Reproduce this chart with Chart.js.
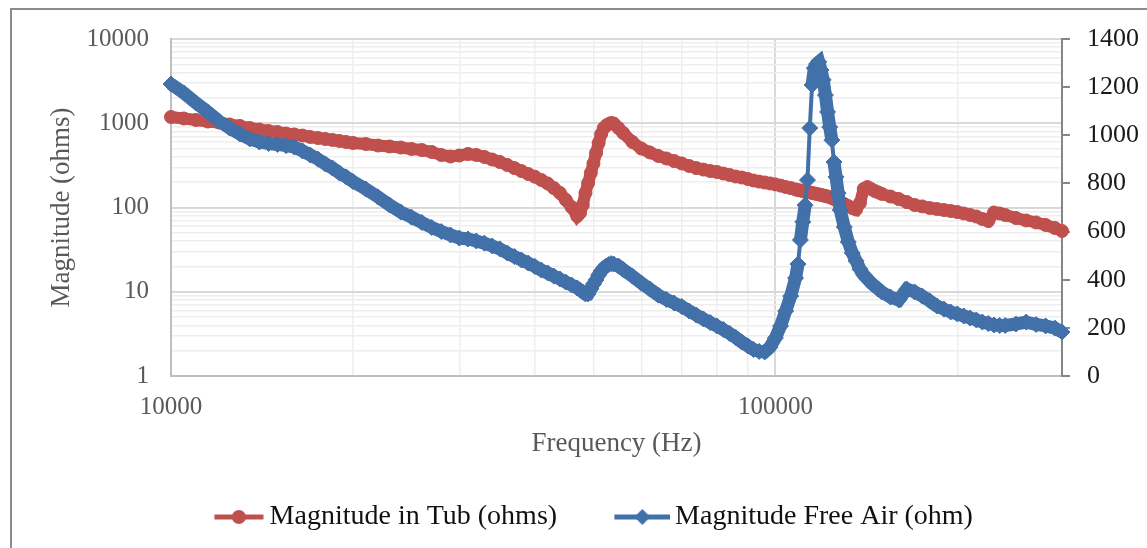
<!DOCTYPE html>
<html>
<head>
<meta charset="utf-8">
<script src="https://cdn.jsdelivr.net/npm/chart.js@4.4.1/dist/chart.umd.min.js"></script>
<style>
  html, body { margin: 0; padding: 0; background: #fff; overflow: hidden; }
  #wrap { position: relative; width: 1147px; height: 548px; }
  #frame { position: absolute; left: 10px; top: 8px; width: 1200px; height: 600px; border: 2px solid #8c8c8c; }
  #chart { position: absolute; left: 0; top: 0; }
</style>
</head>
<body>
<div id="wrap">
  <div id="frame"></div>
  <canvas id="chart" width="1147" height="548"></canvas>
</div>
<script>
// frequency sweep (Hz)
const freqHz = [
  10000, 10500, 11000, 11500, 12000, 12500, 13000, 13500, 14000, 14500,
  15000, 15500, 16000, 16500, 17000, 17500, 18000, 18500, 19000, 19500,
  20000, 21000, 22000, 23000, 24000, 25000, 26000, 27000, 28000, 29000,
  30000, 31000, 32000, 33000, 34000, 35000, 36000, 37000, 38000, 39000,
  40000, 41000, 42000, 43000, 44000, 45000, 46000, 47000, 47500, 48000,
  48500, 49000, 49500, 50000, 50500, 51000, 51500, 52000, 52500, 53000,
  53500, 54000, 55000, 56000, 58000, 60000, 62000, 64000, 66000, 68000,
  70000, 72000, 74000, 76000, 78000, 80000, 82000, 84000, 86000, 88000,
  90000, 92000, 94000, 96000, 98000, 100000, 102000, 104000, 106000, 108000,
  109000, 110000, 111000, 112000, 113000, 114000, 115000, 116000, 117000, 118000,
  119000, 120000, 121000, 122000, 123000, 124000, 125000, 126000, 127000, 128000,
  130000, 132000, 134000, 136000, 138000, 140000, 142000, 144000, 146000, 148000,
  150000, 155000, 160000, 165000, 170000, 175000, 180000, 185000, 190000, 195000,
  200000, 205000, 210000, 215000, 220000, 225000, 230000, 235000, 240000, 250000,
  260000, 270000, 280000, 290000, 298000
];

// left axis (log)
const tubOhms = [
  1186, 1139, 1093, 1049, 1021, 967, 928, 878, 843, 809,
  787, 755, 736, 715, 687, 668, 650, 633, 616, 599,
  583, 567, 544, 530, 515, 495, 481, 456, 420, 403,
  414, 432, 420, 398, 371, 347, 320, 294, 271, 250,
  232, 212, 193, 170, 149, 123, 101, 79, 86, 107,
  149, 195, 257, 333, 444, 583, 745, 878, 940, 980,
  1007, 993, 878, 766, 599, 501, 450, 409, 382, 356,
  333, 311, 294, 282, 271, 264, 253, 243, 233, 227,
  218, 209, 203, 198, 193, 188, 182, 175, 170, 164,
  161, 159, 157, 155, 153, 151, 149, 147, 145, 143,
  141, 139, 137, 135, 133, 130, 126, 123, 119.5, 116,
  110, 104, 98.6, 94.7, 113, 166, 175, 166, 157, 151,
  145, 135, 126, 116, 107, 103, 98.6, 96, 93.4, 90.9,
  88.4, 84.9, 81.5, 78.2, 73.0, 69.2, 87.2, 84.9, 81.5, 75.0,
  70.1, 66.4, 62.0, 57.1, 52.6
];

// right axis (linear)
const freeAirOhm = [
  1213, 1176, 1134, 1097, 1059, 1030, 1005, 985, 972, 966,
  962, 957, 951, 935, 918, 901, 881, 864, 843, 827,
  808, 777, 744, 710, 681, 660, 638, 617, 600, 586,
  573, 569, 561, 552, 540, 528, 511, 496, 482, 469,
  455, 440, 428, 415, 403, 390, 378, 366, 357, 349,
  341, 341, 361, 382, 399, 420, 436, 449, 457, 463,
  467, 465, 457, 442, 415, 386, 361, 336, 318, 303,
  289, 270, 253, 237, 222, 208, 193, 177, 160, 141,
  125, 110, 102, 100, 120, 158, 208, 270, 332, 407,
  465, 565, 640, 710, 814, 1030, 1209, 1279, 1296, 1304,
  1271, 1230, 1167, 1097, 1034, 980, 889, 827, 760, 690,
  619, 557, 511, 478, 444, 420, 403, 386, 374, 361,
  349, 328, 316, 361, 349, 332, 312, 291, 278, 266,
  258, 249, 241, 233, 224, 218, 212, 210, 210, 216,
  224, 214, 208, 199, 183
];

const xTickLabels = [10000, 100000];
const yTickLabels = [1, 10, 100, 1000, 10000];
const minorSteps = [1, 2, 3, 4, 5, 6, 7, 8, 9];

const RED = '#c0504d';
const BLUE = '#4270a9';
const FONT = 'Liberation Serif';

const xGridTicks = minorSteps.map(m => m * 10000).concat([100000, 200000]);
const yGridTicks = [];
[1, 10, 100, 1000].forEach(d => minorSteps.forEach(m => yGridTicks.push(m * d)));
yGridTicks.push(10000);

// legend marker: line with a marker in the middle, drawn into a small canvas
function legendIcon(color, kind, w, x0, x1) {
  const c = document.createElement('canvas');
  c.width = w; c.height = 20;
  const g = c.getContext('2d');
  g.strokeStyle = color;
  g.lineWidth = 5;
  g.beginPath(); g.moveTo(x0, 10); g.lineTo(x1, 10); g.stroke();
  g.fillStyle = color;
  const cx = (x0 + x1) / 2;
  g.beginPath();
  if (kind === 'circle') {
    g.arc(cx, 10, 7, 0, Math.PI * 2);
  } else {
    g.moveTo(cx - 8, 10); g.lineTo(cx, 2); g.lineTo(cx + 8, 10); g.lineTo(cx, 18); g.closePath();
  }
  g.fill();
  return c;
}
const legendIcons = [legendIcon(RED, 'circle', 98, 48.5, 97.5), legendIcon(BLUE, 'diamond', 100, 44, 100)];

const majorColor = v => (v === 10000 || v === 100000 || yTickLabels.includes(v)) ? '#d9d9d9' : '#eeeeee';

new Chart(document.getElementById('chart'), {
  type: 'line',
  data: {
    datasets: [
      {
        label: 'Magnitude in Tub (ohms)',
        data: freqHz.map((f, i) => ({ x: f, y: tubOhms[i] })),
        yAxisID: 'y',
        order: 2,
        borderColor: RED,
        backgroundColor: RED,
        borderWidth: 12,
        pointStyle: 'circle',
        pointRadius: 6.5,
        pointBorderWidth: 1,
        pointBackgroundColor: RED,
        pointBorderColor: RED,
        clip: false
      },
      {
        label: 'Magnitude Free Air (ohm)',
        data: freqHz.map((f, i) => ({ x: f, y: freeAirOhm[i] })),
        yAxisID: 'y2',
        order: 1,
        borderColor: BLUE,
        backgroundColor: BLUE,
        borderWidth: 13,
        segment: {
          // thin connector only where the curve is steep (around the resonance)
          borderWidth: ctx => Math.abs(ctx.p1.y - ctx.p0.y) > 19 ? 4 : 13
        },
        pointStyle: 'rectRot',
        pointRadius: 8,
        pointBorderWidth: 1,
        pointBackgroundColor: BLUE,
        pointBorderColor: BLUE,
        clip: false
      }
    ]
  },
  options: {
    responsive: false,
    animation: false,
    layout: { padding: { top: 39, right: 0, bottom: 7, left: 0 } },
    plugins: {
      tooltip: { enabled: false },
      legend: {
        position: 'bottom',
        labels: {
          usePointStyle: true,
          pointStyleWidth: 81.5,
          padding: 22.5,
          color: '#111',
          font: { family: FONT, size: 28 },
          generateLabels: chart => chart.data.datasets.map((ds, i) => ({
            text: ds.label,
            fillStyle: ds.borderColor,
            strokeStyle: ds.borderColor,
            lineWidth: 0,
            pointStyle: legendIcons[i],
            hidden: !chart.isDatasetVisible(i),
            datasetIndex: i,
            fontColor: '#111'
          }))
        }
      }
    },
    scales: {
      x: {
        type: 'logarithmic',
        position: 'bottom',
        min: 10000,
        max: 298000,
        afterBuildTicks: s => { s.ticks = xGridTicks.map(v => ({ value: v })); },
        afterFit: s => { s.height = 104.5; },
        ticks: {
          autoSkip: false,
          maxRotation: 0,
          padding: 16,
          color: '#595959',
          font: { family: FONT, size: 25 },
          callback: v => xTickLabels.includes(v) ? String(v) : ''
        },
        grid: {
          drawTicks: false,
          color: ctx => majorColor(ctx.tick && ctx.tick.value),
          lineWidth: ctx => (ctx.tick && ctx.tick.value === 100000) ? 2 : 1.5
        },
        border: { color: '#bfbfbf', width: 2 },
        title: {
          display: true,
          text: 'Frequency (Hz)',
          color: '#595959',
          font: { family: FONT, size: 27 },
          padding: { top: 0, bottom: 20 }
        }
      },
      y: {
        type: 'logarithmic',
        position: 'left',
        min: 1,
        max: 10000,
        afterBuildTicks: s => { s.ticks = yGridTicks.map(v => ({ value: v })); },
        afterFit: s => { s.width = 171; },
        ticks: {
          autoSkip: false,
          padding: 22,
          color: '#595959',
          font: { family: FONT, size: 25 },
          callback: v => yTickLabels.includes(v) ? String(v) : ''
        },
        grid: {
          drawTicks: false,
          color: ctx => majorColor(ctx.tick && ctx.tick.value),
          lineWidth: ctx => yTickLabels.includes(ctx.tick && ctx.tick.value) ? 2 : 1.5
        },
        border: { color: '#bfbfbf', width: 2 },
        title: {
          display: true,
          text: 'Magnitude (ohms)',
          color: '#595959',
          font: { family: FONT, size: 27 },
          padding: { top: 46, bottom: 0 }
        }
      },
      y2: {
        type: 'linear',
        position: 'right',
        min: 0,
        max: 1400,
        afterFit: s => { s.width = 85; },
        ticks: {
          stepSize: 200,
          padding: 17,
          color: '#1a1a1a',
          font: { family: FONT, size: 26 },
          callback: v => String(v)
        },
        grid: {
          drawOnChartArea: false,
          drawTicks: true,
          tickLength: 8,
          color: '#868686',
          lineWidth: 2
        },
        border: { color: '#868686', width: 2 }
      }
    }
  }
});
</script>
</body>
</html>
